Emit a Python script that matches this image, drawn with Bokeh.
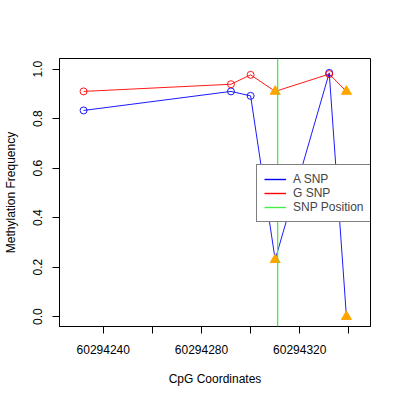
from bokeh.plotting import figure
from bokeh.models import Span, FixedTicker, Range1d, Legend, LegendItem
from bokeh.embed import file_html
from bokeh.resources import INLINE

# CpG coordinates (all start with 60294...)
cpg_x = [60294232, 60294292, 60294300, 60294310, 60294332, 60294339]
a_snp = [0.833, 0.910, 0.892, 0.230, 0.985, 0.000]
g_snp = [0.910, 0.939, 0.977, 0.910, 0.980, 0.910]
snp_flag = [False, False, False, True, False, True]
snp_position = 60294311

x_ticks = [60294240, 60294260, 60294280, 60294300, 60294320, 60294340]
x_tick_labels = ["60294240", "", "60294280", "", "60294320", ""]
y_ticks = [0.0, 0.2, 0.4, 0.6, 0.8, 1.0]
y_tick_labels = ["0.0", "0.2", "0.4", "0.6", "0.8", "1.0"]

FONT = "Liberation Sans"
GREEN = "#44ee44"

p = figure(width=400, height=400, output_backend="svg", toolbar_location=None,
           x_range=Range1d(60294222.2, 60294348.8), y_range=Range1d(-0.04, 1.043),
           min_border_left=59, min_border_right=30, min_border_top=58, min_border_bottom=74)
p.background_fill_color = "white"
p.border_fill_color = "white"
p.outline_line_color = "black"
p.outline_line_width = 1
p.grid.visible = False

# lines
la = p.line(cpg_x, a_snp, line_color="blue", line_width=0.9)
lg = p.line(cpg_x, g_snp, line_color="red", line_width=0.9)

circ_x = [x for x, f in zip(cpg_x, snp_flag) if not f]
tri_x = [x for x, f in zip(cpg_x, snp_flag) if f]
a_c = [v for v, f in zip(a_snp, snp_flag) if not f]
g_c = [v for v, f in zip(g_snp, snp_flag) if not f]
a_t = [v for v, f in zip(a_snp, snp_flag) if f]
g_t = [v for v, f in zip(g_snp, snp_flag) if f]

p.scatter(circ_x, a_c, marker="circle", size=7, fill_color=None, line_color="blue", line_width=0.9)
p.scatter(circ_x, g_c, marker="circle", size=7, fill_color=None, line_color="red", line_width=0.9)
p.scatter(tri_x, a_t, marker="triangle", size=10, fill_color="orange", line_color="orange", line_width=1)
p.scatter(tri_x, g_t, marker="triangle", size=10, fill_color="orange", line_color="orange", line_width=1)

span = Span(location=snp_position, dimension="height", line_color=GREEN, line_width=1.3)
p.add_layout(span)

# legend-only renderers (placed outside the visible range)
da = p.line([snp_position, snp_position], [-10, -10], line_color="blue", line_width=1.4)
dg = p.line([snp_position, snp_position], [-10, -10], line_color="red", line_width=1.4)
ds = p.line([snp_position, snp_position], [-10, -10], line_color=GREEN, line_width=1.4)

# axes
p.xaxis.ticker = FixedTicker(ticks=x_ticks)
p.xaxis.major_label_overrides = {t: l for t, l in zip(x_ticks, x_tick_labels)}
p.yaxis.ticker = FixedTicker(ticks=y_ticks)
p.yaxis.major_label_overrides = {t: l for t, l in zip(y_ticks, y_tick_labels)}
for ax in (p.xaxis[0], p.yaxis[0]):
    ax.minor_tick_line_color = None
    ax.major_tick_in = 0
    ax.major_tick_out = 7
    ax.axis_line_color = "black"
    ax.major_tick_line_color = "black"
    ax.major_label_text_font = FONT
    ax.major_label_text_font_size = "12px"
    ax.major_label_text_color = "black"
    ax.axis_label_text_font = FONT
    ax.axis_label_text_font_size = "12px"
    ax.axis_label_text_font_style = "normal"
    ax.axis_label_text_color = "black"
p.xaxis.axis_label = "CpG Coordinates"
p.yaxis.axis_label = "Methylation Frequency"
p.yaxis.major_label_orientation = "vertical"
p.xaxis.major_label_standoff = 11
p.xaxis.axis_label_standoff = 15
p.yaxis.major_label_standoff = 10
p.yaxis.axis_label_standoff = 13

legend = Legend(items=[LegendItem(label="A SNP", renderers=[da]),
                       LegendItem(label="G SNP", renderers=[dg]),
                       LegendItem(label="SNP Position", renderers=[ds])],
                location=(197, 104))
legend.label_text_font = FONT
legend.label_text_font_size = "12px"
legend.label_height = 14
legend.glyph_height = 14
legend.glyph_width = 22
legend.label_standoff = 7
legend.spacing = 0
legend.padding = 7
legend.margin = 0
legend.border_line_color = "black"
legend.border_line_width = 1
legend.background_fill_color = "white"
legend.background_fill_alpha = 1
p.add_layout(legend)

open("out.html", "w").write(file_html(p, INLINE))
